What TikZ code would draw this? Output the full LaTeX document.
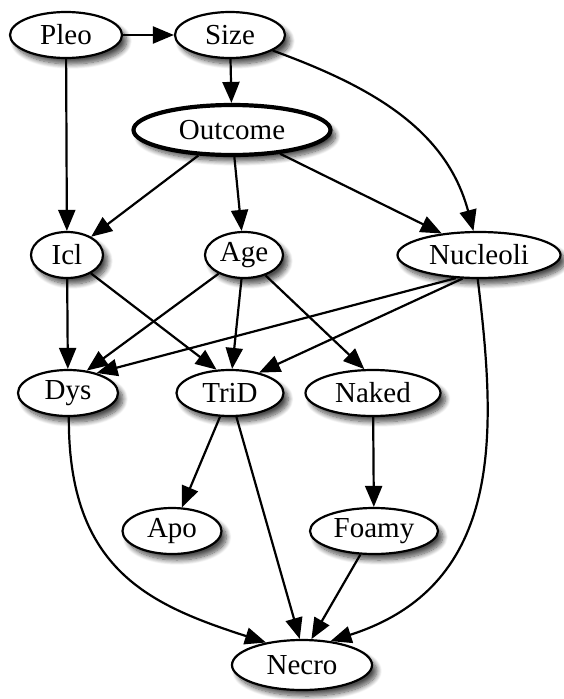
\documentclass[tikz,border=0pt]{standalone}
\usepackage{fontspec}
\setmainfont{Liberation Serif}
\usetikzlibrary{shapes.geometric, arrows.meta, shadows.blur}

\tikzstyle{var} = [ellipse, draw=black, line width=2.2pt, fill=white, minimum height=46pt, inner sep=0pt, text centered, font=\fontsize{29}{31}\selectfont, blur shadow={shadow xshift=5pt, shadow yshift=-6pt, shadow blur steps=10, shadow blur radius=5pt, shadow opacity=70}]
\tikzstyle{target} = [var, line width=4.2pt, minimum height=50pt]
\tikzstyle{arrow} = [line width=2.2pt, -{Triangle[length=21pt, width=17pt]}]

\begin{document}
\begin{tikzpicture}[x=1pt, y=-1pt]
    \useasboundingbox (0,0) rectangle (563,699);
    \node (pleo)     [var, minimum width=112pt] at (66,35)   {Pleo};
    \node (size)     [var, minimum width=110pt] at (230,35)  {Size};
    \node (outcome)  [target, minimum width=197pt] at (232,130) {Outcome};
    \node (icl)      [var, minimum width=72pt]  at (67,255)  {Icl};
    \node (age)      [var, minimum width=78pt]  at (244,255) {Age};
    \node (nucleoli) [var, minimum width=163pt] at (479,255) {Nucleoli};
    \node (dys)      [var, minimum width=100pt] at (68,393)  {Dys};
    \node (trid)     [var, minimum width=107pt] at (230,393) {TriD};
    \node (naked)    [var, minimum width=135pt] at (373,393) {Naked};
    \node (apo)      [var, minimum width=99pt]  at (172,531) {Apo};
    \node (foamy)    [var, minimum width=128pt] at (374,531) {Foamy};
    \node (necro)    [var, minimum width=140pt, minimum height=50pt] at (302,665) {Necro};

    \draw [arrow] (pleo) -- (size);
    \draw [arrow] (size) -- (outcome);
    \draw [arrow] (size) to[out=-20, in=105] (nucleoli.103);
    \draw [arrow] (pleo) -- (icl);
    \draw [arrow] (outcome) -- (icl);
    \draw [arrow] (outcome.-85) -- (age);
    \draw [arrow] (outcome) -- (nucleoli.150);
    \draw [arrow] (icl) -- (dys);
    \draw [arrow] (icl) -- (trid.120);
    \draw [arrow] (age) -- (dys.50);
    \draw [arrow] (age) -- (trid.85);
    \draw [arrow] (age) -- (naked.110);
    \draw [arrow] (nucleoli.-135) -- (dys.35);
    \draw [arrow] (nucleoli.-125) -- (trid.35);
    \draw [arrow] (nucleoli.-93) .. controls (496,430) and (506,585) .. (necro.40);
    \draw [arrow] (dys.-88) .. controls (68,570) and (150,605) .. (necro.148);
    \draw [arrow] (trid) -- (apo);
    \draw [arrow] (trid.-75) -- (necro.95);
    \draw [arrow] (naked) -- (foamy);
    \draw [arrow] (foamy) -- (necro.70);
\end{tikzpicture}
\end{document}
